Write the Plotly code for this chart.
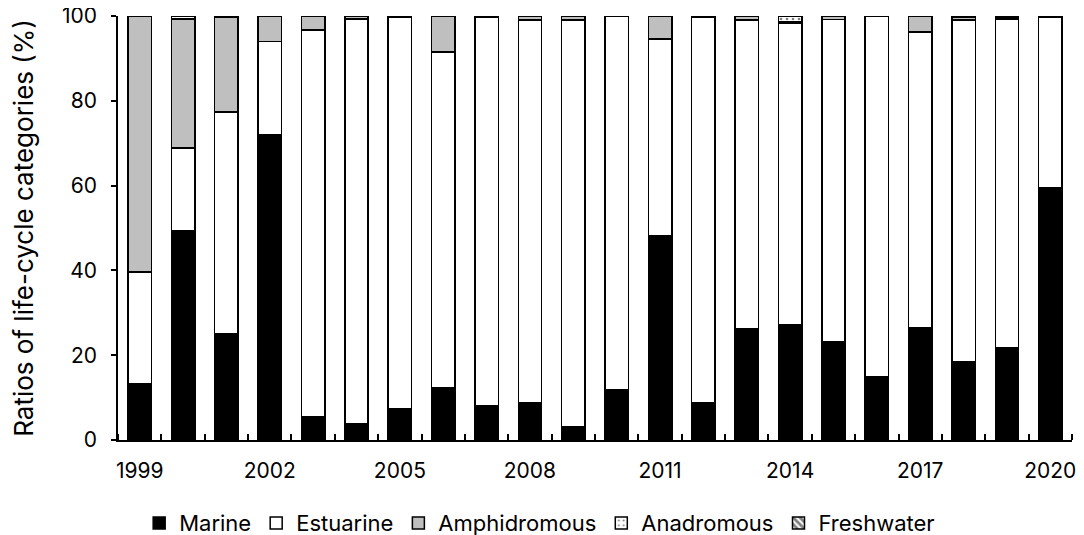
import plotly.graph_objects as go

years = list(range(1999, 2021))
marine =       [13.2, 49.3, 25.0, 72.0, 5.4, 3.8, 7.3, 12.3, 8.0, 8.7, 3.1, 11.8, 48.1, 8.7, 26.2, 27.1, 23.1, 14.9, 26.4, 18.4, 21.7, 59.4]
estuarine =    [26.4, 19.6, 52.4, 22.0, 91.3, 95.5, 92.5, 79.2, 91.8, 90.3, 95.9, 88.2, 46.5, 90.9, 72.8, 71.2, 76.1, 85.1, 69.8, 80.6, 77.6, 40.3]
amphidromous = [60.4, 30.4, 22.3, 6.0, 3.3, 0.7, 0.0, 8.5, 0.0, 1.0, 1.0, 0.0, 5.4, 0.0, 0.9, 0.4, 0.8, 0.0, 3.8, 0.6, 0.5, 0.0]
anadromous =   [0.0, 0.7, 0.0, 0.0, 0.0, 0.0, 0.0, 0.0, 0.2, 0.0, 0.0, 0.0, 0.0, 0.0, 0.0, 1.3, 0.0, 0.0, 0.0, 0.0, 0.0, 0.0]
freshwater =   [0.0, 0.0, 0.3, 0.0, 0.0, 0.0, 0.2, 0.0, 0.0, 0.0, 0.0, 0.0, 0.0, 0.4, 0.1, 0.0, 0.1, 0.0, 0.0, 0.4, 0.2, 0.3]
label_years = [1999, 2002, 2005, 2008, 2011, 2014, 2017, 2020]

FONT = "Inter"
line = dict(color="black", width=1.5)
fig = go.Figure()
fig.add_bar(x=years, y=marine, name="Marine", marker=dict(color="black", line=line))
fig.add_bar(x=years, y=estuarine, name="Estuarine", marker=dict(color="white", line=line))
fig.add_bar(x=years, y=amphidromous, name="Amphidromous", marker=dict(color="#bfbfbf", line=line))
fig.add_bar(x=years, y=anadromous, name="Anadromous",
            marker=dict(color="white", line=line,
                        pattern=dict(shape=".", fgcolor="black", bgcolor="white", size=6, solidity=0.15)))
fig.add_bar(x=years, y=freshwater, name="Freshwater",
            marker=dict(color="white", line=line,
                        pattern=dict(shape="\\", fgcolor="black", bgcolor="white", size=6, solidity=0.6)))

# page body has an 8px margin; figure is sized to fill the remaining window
fig.update_layout(
    barmode="stack", bargap=0.46,
    width=1076, height=527,
    margin=dict(l=110, r=12, t=8, b=95, autoexpand=False),
    plot_bgcolor="white", paper_bgcolor="white",
    font=dict(family=FONT, size=21, color="black"),
    legend=dict(orientation="h", x=0.442, xanchor="center", y=-0.196, yanchor="middle",
                font=dict(size=22), traceorder="normal", itemwidth=30),
)
fig.update_xaxes(
    range=[1998.5, 2020.5], tickvals=label_years, ticktext=[str(y) for y in label_years],
    ticks="", showline=True, linecolor="black", linewidth=1.5, showgrid=False, zeroline=False,
    tickfont=dict(size=21), ticklabelstandoff=11, automargin=False,
    minor=dict(tickvals=[y + 0.5 for y in range(1998, 2021)], ticks="inside", ticklen=6,
               tickcolor="black", tickwidth=1.5, showgrid=False),
)
fig.update_yaxes(
    range=[0, 100], dtick=20, ticks="outside", ticklen=5, tickcolor="black", tickwidth=1.5,
    showline=True, linecolor="black", linewidth=1.5, showgrid=False, zeroline=False,
    title=dict(text="Ratios of life-cycle categories (%)", font=dict(size=26), standoff=34),
    tickfont=dict(size=21), ticklabelstandoff=10, automargin=False, ticklabeloverflow="allow",
)
fig.write_html("out.html")
